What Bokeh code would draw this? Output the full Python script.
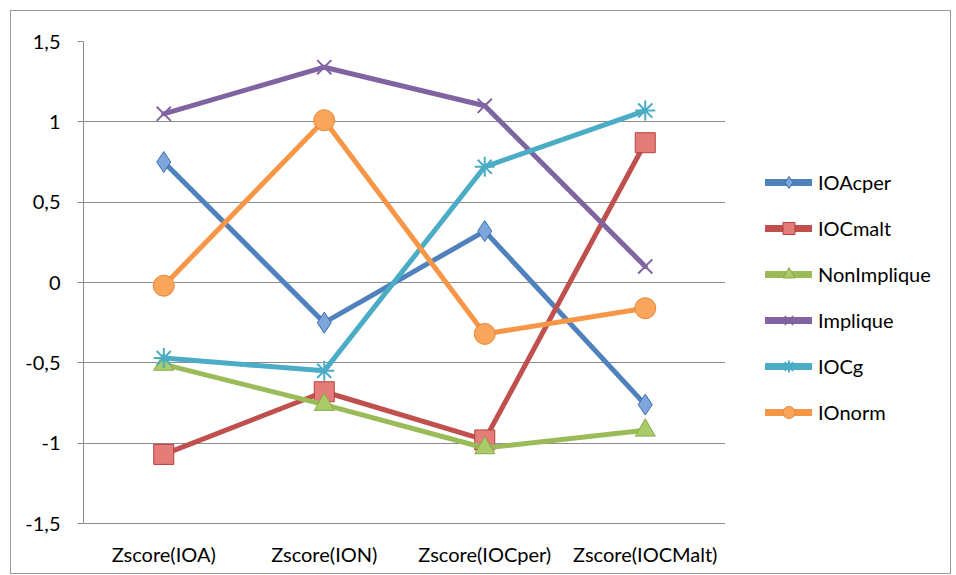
from bokeh.plotting import figure
from bokeh.layouts import row
from bokeh.models import Legend, LegendItem, FixedTicker, Range1d
from bokeh.embed import file_html
from bokeh.resources import INLINE

categories = ["Zscore(IOA)", "Zscore(ION)", "Zscore(IOCper)", "Zscore(IOCMalt)"]
IOAcper = [0.75, -0.25, 0.32, -0.76]
IOCmalt = [-1.07, -0.68, -0.98, 0.87]
NonImplique = [-0.51, -0.76, -1.03, -0.92]
Implique = [1.05, 1.34, 1.10, 0.10]
IOCg = [-0.47, -0.55, 0.72, 1.07]
IOnorm = [-0.02, 1.01, -0.32, -0.16]

y_ticks = [-1.5, -1, -0.5, 0, 0.5, 1, 1.5]
y_tick_labels = ["-1,5", "-1", "-0,5", "0", "0,5", "1", "1,5"]

series = [
    ("IOAcper", IOAcper, "#4F81BD", "diamond", "#7EA6DA", "#3C6FB0", 21),
    ("IOCmalt", IOCmalt, "#C0504D", "square", "#E47C79", "#B5403D", 20),
    ("NonImplique", NonImplique, "#9BBB59", "triangle", "#A9CB68", "#8AAA4A", 20),
    ("Implique", Implique, "#8064A2", "x", None, "#8064A2", 20),
    ("IOCg", IOCg, "#4BACC6", "asterisk", None, "#4BACC6", 20),
    ("IOnorm", IOnorm, "#F79646", "circle", "#F9A55C", "#E8863A", 21),
]

FONT = "Lato"
FS = "20px"

p1 = figure(width=714, height=562, x_range=categories, y_range=(-1.5, 1.5),
            output_backend="svg", toolbar_location=None,
            min_border_left=72, min_border_right=0, min_border_top=30, min_border_bottom=50)
p1.outline_line_color = None
p1.background_fill_color = "white"

p1.xgrid.grid_line_color = None
p1.ygrid.grid_line_color = "#8c8c8c"
p1.ygrid.grid_line_width = 1
p1.yaxis.ticker = FixedTicker(ticks=y_ticks)
p1.yaxis.major_label_overrides = {t: l for t, l in zip(y_ticks, y_tick_labels)}
p1.yaxis.axis_line_color = "#8c8c8c"
p1.yaxis.major_tick_line_color = "#8c8c8c"
p1.yaxis.major_tick_out = 6
p1.yaxis.major_tick_in = 0
p1.yaxis.minor_tick_line_color = None
p1.yaxis.major_label_standoff = 17
p1.yaxis.major_label_text_font = FONT
p1.yaxis.major_label_text_font_size = FS
p1.yaxis.major_label_text_color = "black"

p1.xaxis.axis_line_color = "#8c8c8c"
p1.xaxis.major_tick_line_color = None
p1.xaxis.minor_tick_line_color = None
p1.xaxis.major_label_standoff = 12
p1.xaxis.major_label_text_font = FONT
p1.xaxis.major_label_text_font_size = FS
p1.xaxis.major_label_text_color = "black"

# legend panel (its glyphs sit outside the visible range; only the legend shows)
p2 = figure(width=225, height=562, x_range=Range1d(0, 1), y_range=Range1d(5, 6),
            output_backend="svg", toolbar_location=None,
            x_axis_location=None, y_axis_location=None,
            min_border_left=0, min_border_right=0, min_border_top=0, min_border_bottom=0)
p2.outline_line_color = None
p2.xgrid.grid_line_color = None
p2.ygrid.grid_line_color = None

items = []
for name, vals, color, marker, fill, outline, size in series:
    p1.line(categories, vals, line_color=color, line_width=5, line_join="round", line_cap="round")
    kw = dict(marker=marker, size=size, line_color=outline)
    if fill is None:
        p1.scatter(categories, vals, line_width=2, fill_color=None, **kw)
    else:
        p1.scatter(categories, vals, line_width=1, fill_color=fill, **kw)
    xs = [0.5] * len(vals)
    ln = p2.line(xs, vals, line_color=color, line_width=7, line_cap="round")
    if fill is None:
        sc = p2.scatter(xs, vals, line_width=2, fill_color=None, **kw)
    else:
        sc = p2.scatter(xs, vals, line_width=1, fill_color=fill, **kw)
    items.append(LegendItem(label=name, renderers=[ln, sc]))

legend = Legend(items=items, location=(40, 96), glyph_width=47, glyph_height=30,
                spacing=16, padding=0, margin=0, label_standoff=6,
                label_text_font=FONT, label_text_font_size=FS, label_text_color="black",
                border_line_color=None, background_fill_alpha=0)
p2.add_layout(legend, "center")

p = row(p1, p2)
p.margin = (10, 0, 0, 10)
p.styles = {"border": "1px solid #9a9a9a"}

open("out.html", "w").write(file_html(p, INLINE))
